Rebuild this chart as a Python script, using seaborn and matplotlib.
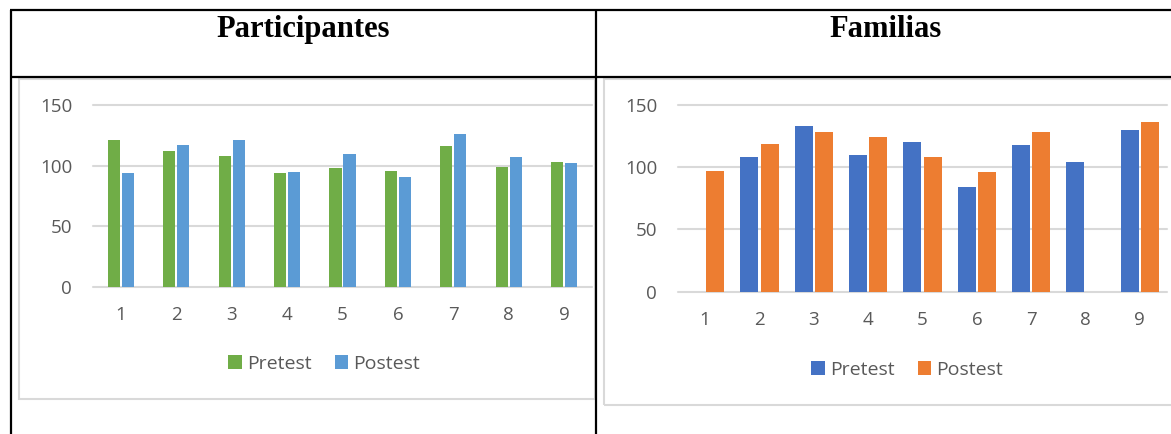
import numpy as np
import pandas as pd
import matplotlib
matplotlib.use("Agg")
import matplotlib.pyplot as plt
from matplotlib.lines import Line2D
from matplotlib.patches import Rectangle
import seaborn as sns

# ---- data ----
sessions = ["1", "2", "3", "4", "5", "6", "7", "8", "9"]
series_names = ["Pretest", "Postest"]

participantes_pretest = [121, 112, 108, 94, 98, 96, 116, 99, 103]
participantes_postest = [94, 117, 121, 95, 110, 91, 126, 107, 102]

familias_pretest = [np.nan, 108, 133, 110, 120, 84, 118, 104, 130]
familias_postest = [97, 119, 128, 124, 108, 96, 128, np.nan, 136]

panel_titles = ["Participantes", "Familias"]
y_ticks = [0, 50, 100, 150]


def long_frame(pre, post):
    return pd.DataFrame({
        "sesion": sessions * 2,
        "serie": [series_names[0]] * len(sessions) + [series_names[1]] * len(sessions),
        "valor": list(pre) + list(post),
    })


W, H = 1171, 434
DPI = 100
sns.set_theme(style="white")
plt.rcParams["font.family"] = ["Open Sans", "DejaVu Sans"]

fig = plt.figure(figsize=(W / DPI, H / DPI), dpi=DPI)
fig.patch.set_facecolor("white")


def px_rect(x0, y0, x1, y1):
    """Pixel box (top-left origin) -> figure fraction [l, b, w, h]."""
    return [x0 / W, (H - y1) / H, (x1 - x0) / W, (y1 - y0) / H]


def px_line(x0, y0, x1, y1, color, lw, z=5):
    fig.add_artist(Line2D([x0 / W, x1 / W], [(H - y0) / H, (H - y1) / H],
                          color=color, linewidth=lw, zorder=z,
                          solid_capstyle="butt"))


GRAY_FRAME = "#D9D9D9"
TEXT_GRAY = "#595959"
TICK_SIZE = 13.5

# light chart frames
fig.add_artist(Rectangle((19 / W, (H - 398.5) / H), (595 - 19) / W, (398.5 - 78.5) / H,
                         transform=fig.transFigure, fill=False,
                         edgecolor=GRAY_FRAME, linewidth=1.5, zorder=1))
fig.add_artist(Rectangle((604 / W, (H - 404.5) / H), (1180 - 604) / W, (404.5 - 78.5) / H,
                         transform=fig.transFigure, fill=False,
                         edgecolor=GRAY_FRAME, linewidth=1.5, zorder=1))

# table borders
px_line(10, 10, W, 10, "black", 1.6)
px_line(10, 77, W, 77, "black", 1.6)
px_line(11, 10, 11, H, "black", 1.6)
px_line(596, 10, 596, H, "black", 1.6)

# header titles
fig.text(303 / W, (H - 37) / H, panel_titles[0], ha="center", va="baseline",
         fontsize=22, fontweight="bold", family="Liberation Serif", color="black")
fig.text(886 / W, (H - 37) / H, panel_titles[1], ha="center", va="baseline",
         fontsize=22, fontweight="bold", family="Liberation Serif", color="black")

panels = [
    dict(pre=participantes_pretest, post=participantes_postest,
         box=(93, 105, 592, 287), colors=["#70AD47", "#5B9BD5"],
         width=0.505, gap=0.14, legend_xy=(324, 364)),
    dict(pre=familias_pretest, post=familias_postest,
         box=(678, 105, 1167, 291.7), colors=["#4472C4", "#ED7D31"],
         width=0.75, gap=0.115, legend_xy=(907, 370)),
]

for p in panels:
    ax = fig.add_axes(px_rect(*p["box"]))
    ax.set_facecolor("none")
    df = long_frame(p["pre"], p["post"])
    sns.barplot(data=df, x="sesion", y="valor", hue="serie",
                hue_order=series_names, order=sessions,
                palette=p["colors"], width=p["width"], gap=p["gap"],
                saturation=1, linewidth=0, ax=ax, legend=True, zorder=3)
    ax.set_ylim(0, 150)
    ax.set_xlim(-0.5, len(sessions) - 0.5)
    ax.set_yticks(y_ticks)
    ax.set_yticklabels([str(t) for t in y_ticks])
    ax.yaxis.grid(True, color=GRAY_FRAME, linewidth=1.5, zorder=0)
    ax.set_axisbelow(True)
    for s in ax.spines.values():
        s.set_visible(False)
    ax.tick_params(axis="y", length=0, pad=15, labelsize=TICK_SIZE, labelcolor=TEXT_GRAY)
    ax.tick_params(axis="x", length=0, pad=14, labelsize=TICK_SIZE, labelcolor=TEXT_GRAY)
    ax.set_xlabel("")
    ax.set_ylabel("")
    for line in ax.get_ygridlines():
        line.set_clip_on(False)

    handles, labels = ax.get_legend_handles_labels()
    ax.get_legend().remove()
    lx, ly = p["legend_xy"]
    fig.legend(handles, labels, loc="center",
               bbox_to_anchor=(lx / W, (H - ly) / H), ncol=2, frameon=False,
               fontsize=14, labelcolor=TEXT_GRAY, handlelength=0.7,
               handleheight=0.7, handletextpad=0.25, columnspacing=1.2,
               borderaxespad=0, borderpad=0)

fig.savefig("out.png", dpi=DPI, facecolor="white")
